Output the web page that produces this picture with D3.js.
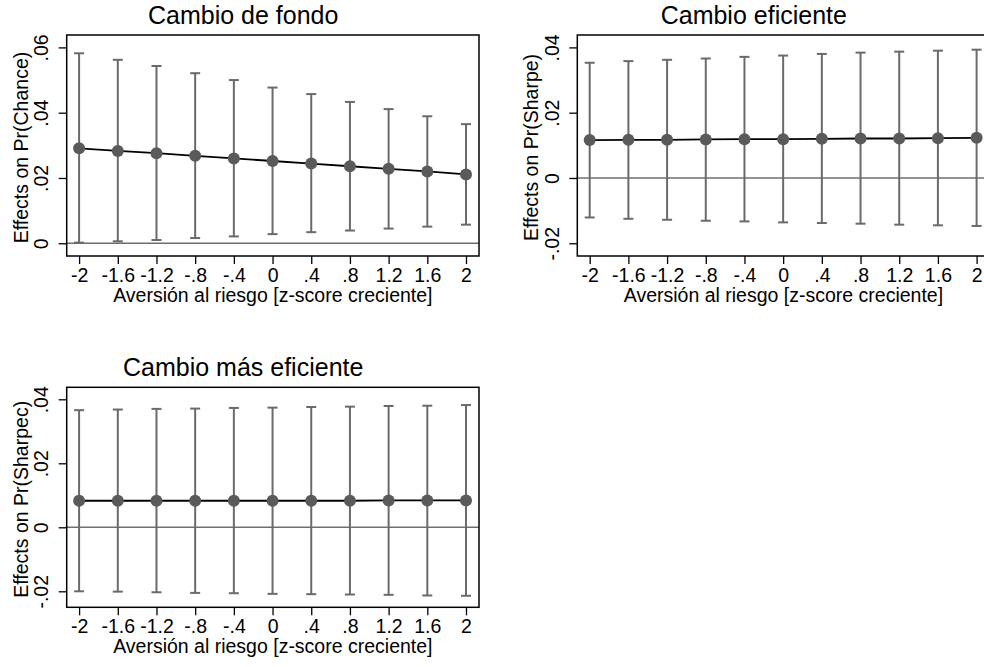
<!DOCTYPE html>
<html>
<head>
<meta charset="utf-8">
<script src="https://cdn.jsdelivr.net/npm/d3@7"></script>
<style>
  html, body { margin: 0; padding: 0; background: #fff; overflow: hidden; width: 984px; height: 667px; }
  svg { display: block; }
  text { font-family: "Liberation Sans", Arial, Helvetica, sans-serif; fill: #000; }
</style>
</head>
<body>
<script>
// ---------------- data ----------------
const xValues = [-2, -1.6, -1.2, -0.8, -0.4, 0, 0.4, 0.8, 1.2, 1.6, 2];
const xTickValues = [-2, -1.6, -1.2, -0.8, -0.4, 0, 0.4, 0.8, 1.2, 1.6, 2];

const panelTitles = ["Cambio de fondo", "Cambio eficiente", "Cambio más eficiente"];
const yAxisTitles = ["Effects on Pr(Chance)", "Effects on Pr(Sharpe)", "Effects on Pr(Sharpec)"];
const xAxisTitle = "Aversión al riesgo [z-score creciente]";

const chanceEst = [0.0291, 0.0283, 0.0276, 0.0268, 0.0260, 0.0252, 0.0244, 0.0236, 0.0228, 0.0220, 0.0211];
const chanceLo  = [0.0002, 0.0006, 0.0010, 0.0016, 0.0021, 0.0028, 0.0034, 0.0039, 0.0045, 0.0051, 0.0057];
const chanceHi  = [0.0582, 0.0562, 0.0543, 0.0521, 0.0500, 0.0477, 0.0457, 0.0433, 0.0411, 0.0389, 0.0365];

const sharpeEst = [0.0116, 0.0117, 0.0117, 0.0118, 0.0119, 0.0119, 0.0120, 0.0121, 0.0121, 0.0122, 0.0123];
const sharpeLo  = [-0.0121, -0.0125, -0.0128, -0.0131, -0.0133, -0.0136, -0.0138, -0.0140, -0.0143, -0.0145, -0.0147];
const sharpeHi  = [0.0353, 0.0358, 0.0362, 0.0366, 0.0371, 0.0375, 0.0380, 0.0384, 0.0387, 0.0390, 0.0393];

const sharpecEst = [0.0083, 0.0083, 0.0083, 0.0083, 0.0083, 0.0083, 0.0083, 0.0083, 0.0084, 0.0084, 0.0084];
const sharpecLo  = [-0.0200, -0.0201, -0.0203, -0.0205, -0.0206, -0.0208, -0.0209, -0.0210, -0.0211, -0.0213, -0.0214];
const sharpecHi  = [0.0366, 0.0368, 0.0370, 0.0371, 0.0373, 0.0374, 0.0376, 0.0377, 0.0379, 0.0380, 0.0382];

const yTicksChance = [0, 0.02, 0.04, 0.06];
const yTicksSharpe = [-0.02, 0, 0.02, 0.04];
const yTicksSharpec = [-0.02, 0, 0.02, 0.04];

// ---------------- layout ----------------
const panels = [
  { title: panelTitles[0], ytitle: yAxisTitles[0], est: chanceEst, lo: chanceLo, hi: chanceHi, yticks: yTicksChance,
    left: 66.7, top: 35, right: 479, bottom: 256, yDomain: [-0.0039, 0.0638] },
  { title: panelTitles[1], ytitle: yAxisTitles[1], est: sharpeEst, lo: sharpeLo, hi: sharpeHi, yticks: yTicksSharpe,
    left: 577.3, top: 35, right: 989.6, bottom: 256, yDomain: [-0.0239, 0.0438] },
  { title: panelTitles[2], ytitle: yAxisTitles[2], est: sharpecEst, lo: sharpecLo, hi: sharpecHi, yticks: yTicksSharpec,
    left: 66.7, top: 387.3, right: 479, bottom: 607.3, yDomain: [-0.0250, 0.04375] }
];

const fmt = d => {
  if (Math.abs(d) < 1e-12) return "0";
  let s = String(+d.toFixed(4));
  return s.replace(/^(-?)0\./, "$1.");
};

const svg = d3.select("body").append("svg")
  .attr("width", 1000).attr("height", 667);

const GRAY = "#6a6a6a";
const DOT = "#5a5a5a";
const FONT = '"Liberation Sans", Arial, Helvetica, sans-serif';

panels.forEach(p => {
  const w = p.right - p.left;
  const padL = 12.4, padR = 13.0;
  const x = d3.scaleLinear().domain([-2, 2]).range([p.left + padL, p.right - padR]);
  const y = d3.scaleLinear().domain(p.yDomain).range([p.bottom, p.top]);

  const g = svg.append("g");

  // zero line
  g.append("line")
    .attr("x1", p.left).attr("x2", p.right)
    .attr("y1", y(0)).attr("y2", y(0))
    .attr("stroke", "#6f6f6f").attr("stroke-width", 1.4);

  const rows = xValues.map((xv, i) => ({ x: xv, est: p.est[i], lo: p.lo[i], hi: p.hi[i] }));

  // error bars
  const eb = g.append("g").attr("stroke", GRAY).attr("stroke-width", 2).attr("fill", "none");
  eb.selectAll("line.v").data(rows).join("line").attr("class", "v")
    .attr("x1", d => x(d.x)).attr("x2", d => x(d.x))
    .attr("y1", d => y(d.lo)).attr("y2", d => y(d.hi));
  eb.selectAll("line.ch").data(rows).join("line").attr("class", "ch")
    .attr("x1", d => x(d.x) - 5).attr("x2", d => x(d.x) + 5)
    .attr("y1", d => y(d.hi)).attr("y2", d => y(d.hi));
  eb.selectAll("line.cl").data(rows).join("line").attr("class", "cl")
    .attr("x1", d => x(d.x) - 5).attr("x2", d => x(d.x) + 5)
    .attr("y1", d => y(d.lo)).attr("y2", d => y(d.lo));

  // connecting line
  g.append("path").datum(rows)
    .attr("fill", "none").attr("stroke", "#000").attr("stroke-width", 1.8)
    .attr("d", d3.line().x(d => x(d.x)).y(d => y(d.est)));

  // dots
  g.selectAll("circle").data(rows).join("circle")
    .attr("cx", d => x(d.x)).attr("cy", d => y(d.est)).attr("r", 6)
    .attr("fill", DOT);

  // box
  g.append("rect")
    .attr("x", p.left).attr("y", p.top).attr("width", w).attr("height", p.bottom - p.top)
    .attr("fill", "none").attr("stroke", "#000").attr("stroke-width", 1.5);

  // x axis
  const xa = g.append("g").attr("transform", `translate(0,${p.bottom})`)
    .call(d3.axisBottom(x).tickValues(xTickValues).tickFormat(fmt).tickSize(8).tickPadding(3));
  xa.select(".domain").remove();
  xa.selectAll(".tick line").attr("stroke", "#000").attr("stroke-width", 1.3);
  xa.selectAll(".tick text")
    .attr("y", 26).attr("dy", 0)
    .style("font-size", "19.5px").style("font-family", FONT).attr("fill", "#000");

  // y axis
  const ya = g.append("g").attr("transform", `translate(${p.left},0)`)
    .call(d3.axisLeft(y).tickValues(p.yticks).tickFormat(fmt).tickSize(8));
  ya.select(".domain").remove();
  ya.selectAll(".tick line").attr("stroke", "#000").attr("stroke-width", 1.3);
  ya.selectAll(".tick text")
    .attr("x", 0).attr("y", 0).attr("dy", 0)
    .attr("transform", "translate(-18.7,0) rotate(-90)")
    .attr("text-anchor", "middle")
    .style("font-size", "19.5px").style("font-family", FONT).attr("fill", "#000");

  // axis titles
  g.append("text")
    .attr("x", (p.left + p.right) / 2)
    .attr("y", p.bottom + 46)
    .attr("text-anchor", "middle")
    .style("font-size", "19.5px")
    .text(xAxisTitle);

  g.append("text")
    .attr("transform", `translate(${p.left - 39},${(p.top + p.bottom) / 2 + 2}) rotate(-90)`)
    .attr("text-anchor", "middle")
    .style("font-size", "19.5px")
    .text(p.ytitle);

  // title (centred on the whole sub-graph, which includes the y-axis area)
  g.append("text")
    .attr("x", p.left + 176.5)
    .attr("y", p.top - 11)
    .attr("text-anchor", "middle")
    .style("font-size", "25px")
    .text(p.title);
});
</script>
</body>
</html>
